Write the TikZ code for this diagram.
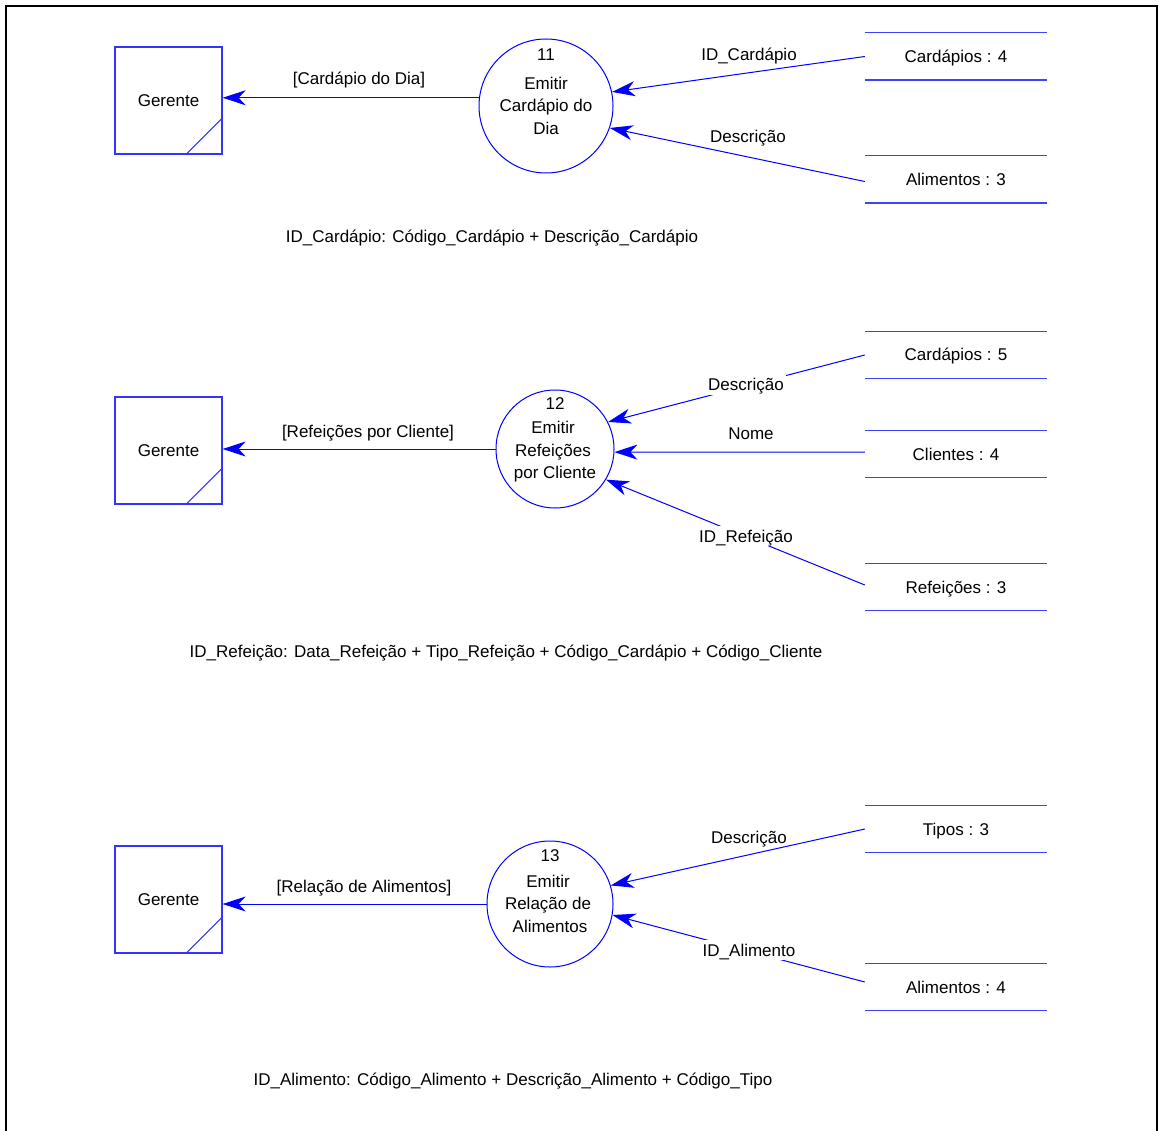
\documentclass[tikz,border=0pt]{standalone}
\usepackage{fontspec}
\setmainfont{Liberation Sans}
\usetikzlibrary{arrows.meta}
\begin{document}
\begin{tikzpicture}[x=1pt,y=-1pt,
 every node/.style={font=\fontsize{17}{20}\selectfont, inner sep=1pt, text height=12pt, text depth=0pt},
 ent/.style={draw=blue!80, line width=1.3pt, minimum width=107pt, minimum height=107pt, inner sep=0pt},
 proc/.style={draw=blue, line width=1pt, circle, inner sep=0pt},
 store/.style={minimum width=182pt, minimum height=47pt, inner sep=0pt},
 storeline/.style={draw=blue!75, line width=1.4pt},
 flow/.style={draw=blue, line width=1pt, -{Stealth[length=23pt,width=15pt,inset=7pt]}},
 lbl/.style={fill=white, inner xsep=2pt, inner ysep=4pt},
 frameline/.style={draw=black, line width=2pt},
 ]
\useasboundingbox (0,0) rectangle (1159,1131);
% frame
\coordinate (fa) at (6,1131);
\coordinate (fb) at (6,6);
\coordinate (fc) at (1157,6);
\coordinate (fd) at (1157,1131);
\draw[frameline] (fa) -- (fb) -- (fc) -- (fd);

% ===== Section 1 =====
\node[ent] (g1) at (168.5,100.5) {Gerente};
\draw[blue!80, line width=1pt] ([xshift=-37pt]g1.south east) -- ([yshift=37pt]g1.south east);
\node[proc, minimum size=134pt] (c1) at (546,106) {};
\node (c1n) at (546,55) {11};
\node (c1a) at (546,84) {Emitir};
\node (c1b) at (546,106) {Cardápio do};
\node (c1c) at (546,129) {Dia};
\node[store] (s1a) at (956,56.5) {Cardápios : 4};
\draw[storeline] (s1a.north west) -- (s1a.north east) (s1a.south west) -- (s1a.south east);
\node[store] (s1b) at (956,179.5) {Alimentos : 3};
\draw[storeline] (s1b.north west) -- (s1b.north east) (s1b.south west) -- (s1b.south east);
\draw[flow] (c1.173) -- (g1.east |- c1.173);
\draw[flow] (s1a.west) -- (c1.12);
\draw[flow] ([yshift=-2pt]s1b.west) -- (c1.-19);
\node (l1a) at (359,79) {[Cardápio do Dia]};
\node (l1b) at (749,55) {ID\_Cardápio};
\node (l1c) at (748,137) {Descrição};
\node (d1) at (492,237) {ID\_Cardápio: Código\_Cardápio + Descrição\_Cardápio};

% ===== Section 2 =====
\node[ent] (g2) at (168.5,450.5) {Gerente};
\draw[blue!80, line width=1pt] ([xshift=-37pt]g2.south east) -- ([yshift=37pt]g2.south east);
\node[proc, minimum size=118pt] (c2) at (555,449) {};
\node (c2n) at (555,403) {12};
\node (c2a) at (553,427) {Emitir};
\node (c2b) at (553,450) {Refeições};
\node (c2c) at (555,472) {por Cliente};
\node[store] (s2a) at (956,355) {Cardápios : 5};
\draw[storeline] (s2a.north west) -- (s2a.north east) (s2a.south west) -- (s2a.south east);
\node[store] (s2b) at (956,454) {Clientes : 4};
\draw[storeline] (s2b.north west) -- (s2b.north east) (s2b.south west) -- (s2b.south east);
\node[store] (s2c) at (956,587) {Refeições : 3};
\draw[storeline] (s2c.north west) -- (s2c.north east) (s2c.south west) -- (s2c.south east);
\draw[flow] (c2.west) -- (g2.east |- c2.west);
\draw[flow] (s2a.west) -- (c2.27);
\draw[flow] ([yshift=2pt]s2b.west) -- (c2.-3);
\draw[flow] ([yshift=2pt]s2c.west) -- (c2.-31);
\node (l2a) at (368,431) {[Refeições por Cliente]};
\node[lbl] (l2b) at (746,385) {Descrição};
\node (l2c) at (751,433) {Nome};
\node[lbl] (l2d) at (746,536) {ID\_Refeição};
\node (d2) at (506,651) {ID\_Refeição: Data\_Refeição + Tipo\_Refeição + Código\_Cardápio + Código\_Cliente};

% ===== Section 3 =====
\node[ent] (g3) at (168.5,899.5) {Gerente};
\draw[blue!80, line width=1pt] ([xshift=-37pt]g3.south east) -- ([yshift=37pt]g3.south east);
\node[proc, minimum size=126pt] (c3) at (550,904) {};
\node (c3n) at (550,855) {13};
\node (c3a) at (548,881) {Emitir};
\node (c3b) at (548,903) {Relação de};
\node (c3c) at (550,926) {Alimentos};
\node[store] (s3a) at (956,829) {Tipos : 3};
\draw[storeline] (s3a.north west) -- (s3a.north east) (s3a.south west) -- (s3a.south east);
\node[store] (s3b) at (956,987) {Alimentos : 4};
\draw[storeline] (s3b.north west) -- (s3b.north east) (s3b.south west) -- (s3b.south east);
\draw[flow] (c3.west) -- (g3.east |- c3.west);
\draw[flow] (s3a.west) -- (c3.17);
\draw[flow] ([yshift=5pt]s3b.west) -- (c3.-10);
\node (l3a) at (364,886) {[Relação de Alimentos]};
\node (l3b) at (749,837) {Descrição};
\node[lbl] (l3c) at (749,950) {ID\_Alimento};
\node (d3) at (513,1079) {ID\_Alimento: Código\_Alimento + Descrição\_Alimento + Código\_Tipo};
\end{tikzpicture}
\end{document}
